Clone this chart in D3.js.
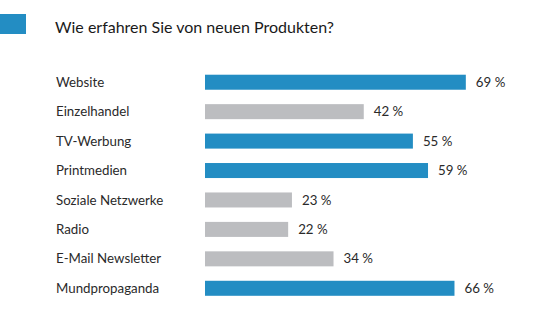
<!DOCTYPE html>
<html>
<head>
<meta charset="utf-8">
<script src="https://cdn.jsdelivr.net/npm/d3@7"></script>
<style>
  body { margin: 0; background: #fff; }
  svg { font-family: Lato, "Open Sans", sans-serif; }
</style>
</head>
<body>
<div id="chart"></div>
<script>
const title = 'Wie erfahren Sie von neuen Produkten?';
const categories = ['Website', 'Einzelhandel', 'TV-Werbung', 'Printmedien', 'Soziale Netzwerke', 'Radio', 'E-Mail Newsletter', 'Mundpropaganda'];
const values = [69, 42, 55, 59, 23, 22, 34, 66];
const highlighted = ['Website', 'TV-Werbung', 'Printmedien', 'Mundpropaganda'];

const width = 533, height = 326;
const blue = '#238dc3', grey = '#bcbdc0';

const svg = d3.select('#chart').append('svg')
  .attr('width', width)
  .attr('height', height);

// blue marker + title
svg.append('rect')
  .attr('x', 0).attr('y', 14)
  .attr('width', 26).attr('height', 20)
  .attr('fill', blue);

svg.append('text')
  .attr('x', 55).attr('y', 33)
  .attr('font-size', 16)
  .attr('fill', '#1a1a1a')
  .text(title);

const data = categories.map((c, i) => ({ name: c, value: values[i] }));

const x = d3.scaleLinear()
  .domain([0, 100])
  .range([205, 583]);

const y = d3.scaleBand()
  .domain(categories)
  .range([67.5, 303])
  .paddingInner(0.49)
  .paddingOuter(0.245);

const rows = svg.append('g').selectAll('.row').data(data).enter();

rows.append('rect')
  .attr('x', x(0))
  .attr('y', d => y(d.name))
  .attr('width', d => x(d.value) - x(0))
  .attr('height', y.bandwidth())
  .attr('fill', d => highlighted.includes(d.name) ? blue : grey);

rows.append('text')
  .attr('x', 56)
  .attr('y', d => y(d.name) + y.bandwidth() / 2)
  .attr('dy', '0.35em')
  .attr('font-size', 13.3)
  .attr('fill', '#2a2a2a')
  .text(d => d.name);

rows.append('text')
  .attr('x', d => x(d.value) + 10)
  .attr('y', d => y(d.name) + y.bandwidth() / 2)
  .attr('dy', '0.35em')
  .attr('font-size', 13.3)
  .attr('fill', '#2a2a2a')
  .text(d => d.value + ' %');
</script>
</body>
</html>
